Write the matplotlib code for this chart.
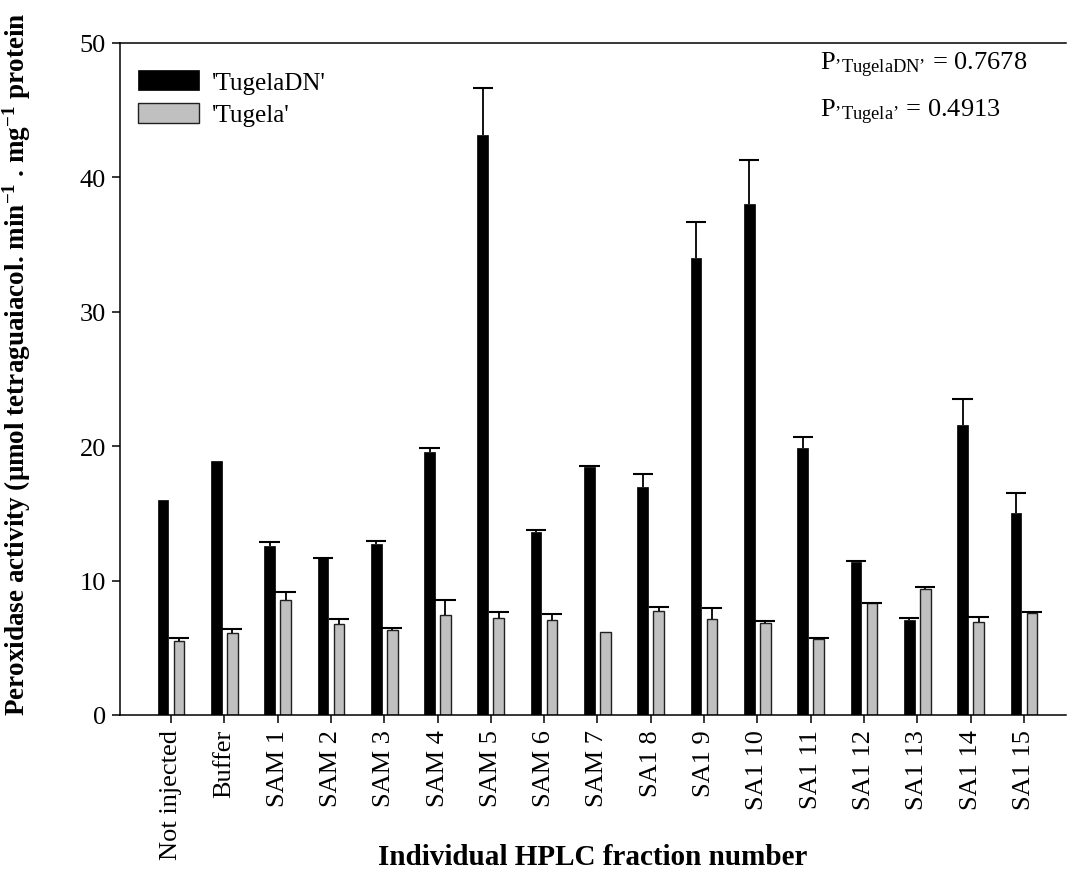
import numpy as np
import matplotlib
matplotlib.use("Agg")
import matplotlib.pyplot as plt

plt.rcParams['font.family'] = ['Liberation Serif', 'DejaVu Serif']
plt.rcParams['mathtext.fontset'] = 'custom'
plt.rcParams['mathtext.rm'] = 'Liberation Serif'
plt.rcParams['mathtext.it'] = 'Liberation Serif:italic'
plt.rcParams['mathtext.bf'] = 'Liberation Serif:bold'

# fractions on the x axis
fractions = ['Not injected', 'Buffer', 'SAM 1', 'SAM 2', 'SAM 3', 'SAM 4', 'SAM 5',
             'SAM 6', 'SAM 7', 'SA1 8', 'SA1 9', 'SA1 10', 'SA1 11', 'SA1 12',
             'SA1 13', 'SA1 14', 'SA1 15']

# peroxidase activity, mean and upper error
tugela_dn = [16.0, 18.9, 12.6, 11.65, 12.75, 19.55, 43.15, 13.6, 18.45, 17.0,
             34.0, 38.0, 19.9, 11.4, 7.05, 21.55, 15.05]
tugela_dn_err = [0, 0, 0.25, 0.05, 0.2, 0.33, 3.5, 0.2, 0.05, 0.95,
                 2.7, 3.3, 0.8, 0.05, 0.17, 1.98, 1.48]
tugela = [5.5, 6.1, 8.55, 6.75, 6.35, 7.45, 7.25, 7.05, 6.2, 7.72,
          7.15, 6.85, 5.65, 8.3, 9.4, 6.9, 7.57]
tugela_err = [0.25, 0.27, 0.62, 0.43, 0.1, 1.12, 0.45, 0.46, 0, 0.28,
              0.8, 0.12, 0.08, 0.05, 0.12, 0.38, 0.1]

p_tugela_dn = 0.7678
p_tugela = 0.4913

fig = plt.figure(figsize=(10.67, 8.7), dpi=100)
ax = fig.add_axes([120 / 1067, 154 / 870, 946 / 1067, 672 / 870])

x = np.arange(len(fractions))
w = 0.2
xa = x - 0.15
xb = x + 0.15

ax.bar(xa, tugela_dn, width=w, color='black', edgecolor='black', linewidth=0.5,
       label="'TugelaDN'", zorder=2)
ax.bar(xb, tugela, width=w, color='#c0c0c0', edgecolor='#202020', linewidth=1.0,
       label="'Tugela'", zorder=2)


# only the upper half of each error bar: stem plus a cap at the top
def upper_errors(xs, vals, errs, cap=0.19):
    xs = np.asarray(xs)
    vals = np.asarray(vals)
    errs = np.asarray(errs)
    keep = errs > 0
    tops = vals[keep] + errs[keep]
    ax.vlines(xs[keep], vals[keep], tops, colors='black', linewidth=1.3, zorder=3)
    ax.hlines(tops, xs[keep] - cap, xs[keep] + cap, colors='black',
              linewidth=1.5, zorder=3)


upper_errors(xa, tugela_dn, tugela_dn_err)
upper_errors(xb, tugela, tugela_err)

ax.set_xlim(-0.956, 16.79)
ax.set_ylim(0, 50)
ax.set_yticks([0, 10, 20, 30, 40, 50])
ax.set_xticks(x)
ax.set_xticklabels(fractions, rotation=90, fontsize=19)
ax.tick_params(axis='y', labelsize=19, direction='out', length=6, width=1.1, pad=4)
ax.tick_params(axis='x', direction='out', length=6, width=1.1, pad=4)

for side in ['left', 'bottom', 'top']:
    ax.spines[side].set_linewidth(1.1)
ax.spines['right'].set_visible(False)

leg = ax.legend(loc='upper left', bbox_to_anchor=(-0.005, 0.993), frameon=False,
                fontsize=18, handlelength=2.45, handleheight=0.85,
                handletextpad=0.5, labelspacing=0.35, borderaxespad=0.5)

ax.text(700 / 946, 1 - 26 / 672, r"P$_{\mathrm{’TugelaDN’}}$ = " + f"{p_tugela_dn:.4f}",
        transform=ax.transAxes, fontsize=19, ha='left', va='baseline')
ax.text(700 / 946, 1 - 73 / 672, r"P$_{\mathrm{’Tugela’}}$ = " + f"{p_tugela:.4f}",
        transform=ax.transAxes, fontsize=19, ha='left', va='baseline')

fig.text(593 / 1067, 5 / 870, 'Individual HPLC fraction number', fontsize=21,
         fontweight='bold', ha='center', va='baseline')
fig.text(17 / 1067, 506 / 870,
         r'Peroxidase activity ($\mathbf{\mu}$mol tetraguaiacol. min$^{\mathbf{-1}}$ . mg$^{\mathbf{-1}}$ protein',
         fontsize=19.5, fontweight='bold', rotation=90, ha='center', va='center')

fig.savefig('out.png', dpi=100)
